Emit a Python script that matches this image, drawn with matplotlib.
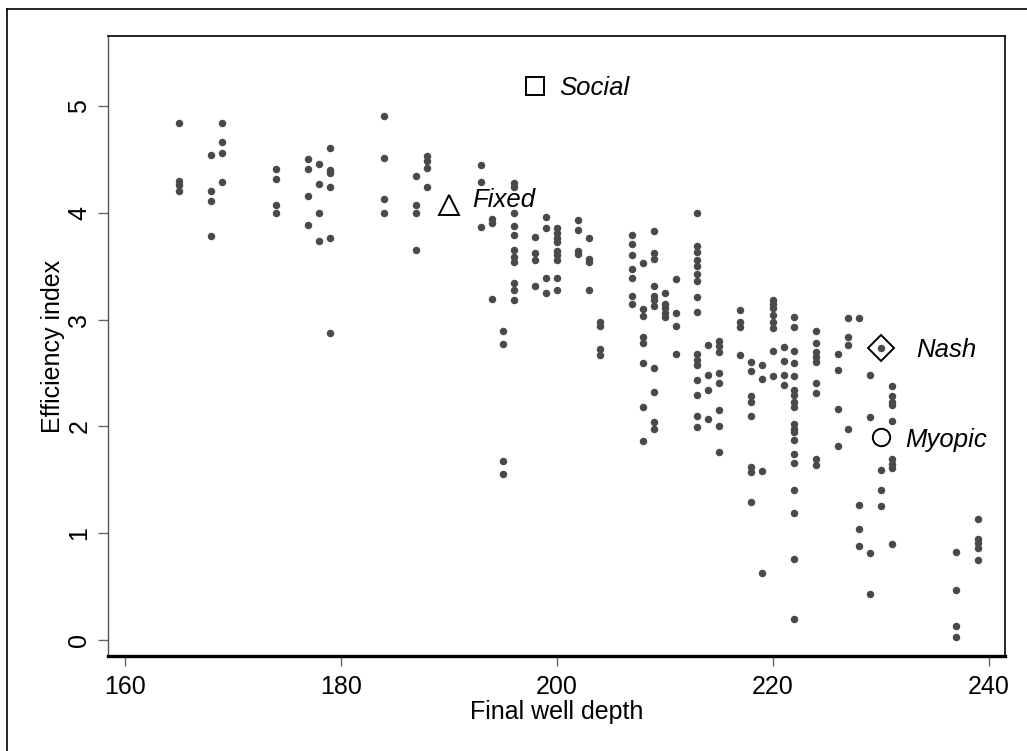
import numpy as np
import matplotlib.pyplot as plt
from matplotlib.lines import Line2D

plt.rcParams['font.family'] = ['Liberation Sans', 'DejaVu Sans']

# observed outcomes: efficiency index at each final well depth
depth_cols = [165, 168, 169, 174, 177, 178, 179, 184, 187, 188, 193, 194, 195,
              196, 198, 199, 200, 202, 203, 204, 207, 208, 209, 210, 211, 213,
              214, 215, 217, 218, 219, 220, 221, 222, 224, 226, 227, 228, 229,
              230, 231, 237, 239]
eff_cols = [
    [4.84, 4.30, 4.26, 4.20],
    [4.54, 4.20, 4.11, 3.78],
    [4.84, 4.66, 4.56, 4.29],
    [4.41, 4.32, 4.07, 4.00],
    [4.50, 4.41, 4.16, 3.89],
    [4.46, 4.27, 4.00, 3.74],
    [4.61, 4.40, 4.37, 4.24, 3.76, 2.87],
    [4.91, 4.51, 4.13, 4.00],
    [4.34, 4.07, 4.00, 3.65],
    [4.53, 4.48, 4.42, 4.24],
    [4.45, 4.29, 3.87],
    [3.94, 3.90, 3.19],
    [2.89, 2.77, 1.68, 1.55],
    [4.28, 4.24, 4.00, 3.88, 3.79, 3.65, 3.59, 3.54, 3.34, 3.28, 3.18],
    [3.77, 3.62, 3.56, 3.31],
    [3.96, 3.86, 3.39, 3.25],
    [3.86, 3.81, 3.76, 3.73, 3.64, 3.60, 3.56, 3.39, 3.28],
    [3.93, 3.84, 3.64, 3.61],
    [3.76, 3.57, 3.54, 3.28],
    [2.98, 2.94, 2.72, 2.67],
    [3.79, 3.71, 3.60, 3.47, 3.39, 3.22, 3.15],
    [3.53, 3.10, 3.03, 2.84, 2.78, 2.59, 2.18, 1.86],
    [3.83, 3.62, 3.57, 3.31, 3.22, 3.18, 3.13, 2.55, 2.32, 2.04, 1.98],
    [3.25, 3.15, 3.11, 3.06, 3.02],
    [3.38, 3.06, 2.94, 2.68],
    [4.00, 3.69, 3.63, 3.56, 3.50, 3.43, 3.36, 3.21, 3.07, 2.68, 2.62, 2.57,
     2.43, 2.29, 2.10, 1.99],
    [2.76, 2.48, 2.34, 2.07],
    [2.80, 2.75, 2.70, 2.50, 2.41, 2.15, 2.00, 1.76],
    [3.09, 2.98, 2.93, 2.67],
    [2.60, 2.52, 2.28, 2.23, 2.10, 1.62, 1.57, 1.29],
    [2.57, 2.44, 1.58, 0.63],
    [3.18, 3.15, 3.11, 3.04, 2.98, 2.92, 2.71, 2.47],
    [2.74, 2.61, 2.48, 2.39],
    [3.02, 2.93, 2.71, 2.59, 2.47, 2.34, 2.29, 2.23, 2.18, 2.02, 1.98, 1.95,
     1.87, 1.74, 1.66, 1.40, 1.19, 0.76, 0.20],
    [2.89, 2.78, 2.70, 2.65, 2.60, 2.41, 2.31, 1.69, 1.64],
    [2.68, 2.53, 2.16, 1.82],
    [3.01, 2.84, 2.76, 1.98],
    [3.01, 1.26, 1.04, 0.88],
    [2.48, 2.09, 0.81, 0.43],
    [2.73, 1.59, 1.40, 1.25],
    [2.38, 2.28, 2.23, 2.20, 2.05, 1.69, 1.65, 1.61, 0.90],
    [0.82, 0.47, 0.13, 0.03],
    [1.13, 0.95, 0.91, 0.86, 0.75],
]

# theoretical benchmarks
bench_names = ['Social', 'Fixed', 'Nash', 'Myopic']
bench_x = [198, 190, 230, 230]
bench_y = [5.19, 4.07, 2.73, 1.90]

depth = []
eff = []
for d, vals in zip(depth_cols, eff_cols):
    for v in vals:
        depth.append(d)
        eff.append(v)

W, H = 1027, 751
fig = plt.figure(figsize=(W / 100, H / 100), dpi=100)
ax = fig.add_axes([108 / W, (H - 656) / H, (1005 - 108) / W, (656 - 36) / H])

ax.plot(depth, eff, 'o', color='#4a4a4a', markersize=5.4, markeredgewidth=0, zorder=3)

mk = {'Social': ('s', 12.5), 'Fixed': ('^', 15), 'Nash': ('D', 13), 'Myopic': ('o', 12.5)}
for name, bx, by in zip(bench_names, bench_x, bench_y):
    m, s = mk[name]
    ax.plot(bx, by, m, markersize=s, markerfacecolor='none', markeredgecolor='black',
            markeredgewidth=1.4, zorder=4)

lab_off = {'Social': (2.2, -0.09), 'Fixed': (2.2, -0.02), 'Nash': (3.3, -0.08), 'Myopic': (2.25, -0.09)}
for name, bx, by in zip(bench_names, bench_x, bench_y):
    dx, dy = lab_off[name]
    ax.text(bx + dx, by + dy, name, fontsize=18.5, style='italic', ha='left', va='baseline')

ax.set_xlim(158.45, 241.5)
ax.set_ylim(-0.15, 5.655)
ax.set_xticks([160, 180, 200, 220, 240])
ax.set_yticks([0, 1, 2, 3, 4, 5])
ax.tick_params(axis='both', direction='out', length=7, width=1, color='#666666',
               labelsize=18, pad=5)
ax.tick_params(axis='x', pad=6.5)
for lab in ax.get_yticklabels():
    lab.set_rotation(90)
    lab.set_va('center')

ax.set_xlabel('Final well depth', fontsize=18, labelpad=1)
ax.set_ylabel('Efficiency index', fontsize=18, labelpad=2)

ax.spines['left'].set_color('#555555')
ax.spines['left'].set_linewidth(1)
ax.spines['top'].set_linewidth(1.2)
ax.spines['right'].set_linewidth(1.2)
ax.spines['bottom'].set_linewidth(2.4)

# outer frame (only left and top edges fall inside the image)
fig.add_artist(Line2D([7 / W, 7 / W], [0, 1 - 9 / H], color='black', lw=1.2))
fig.add_artist(Line2D([7 / W, 1], [1 - 9 / H, 1 - 9 / H], color='black', lw=1.2))

fig.savefig('out.png', dpi=100, facecolor='white')
